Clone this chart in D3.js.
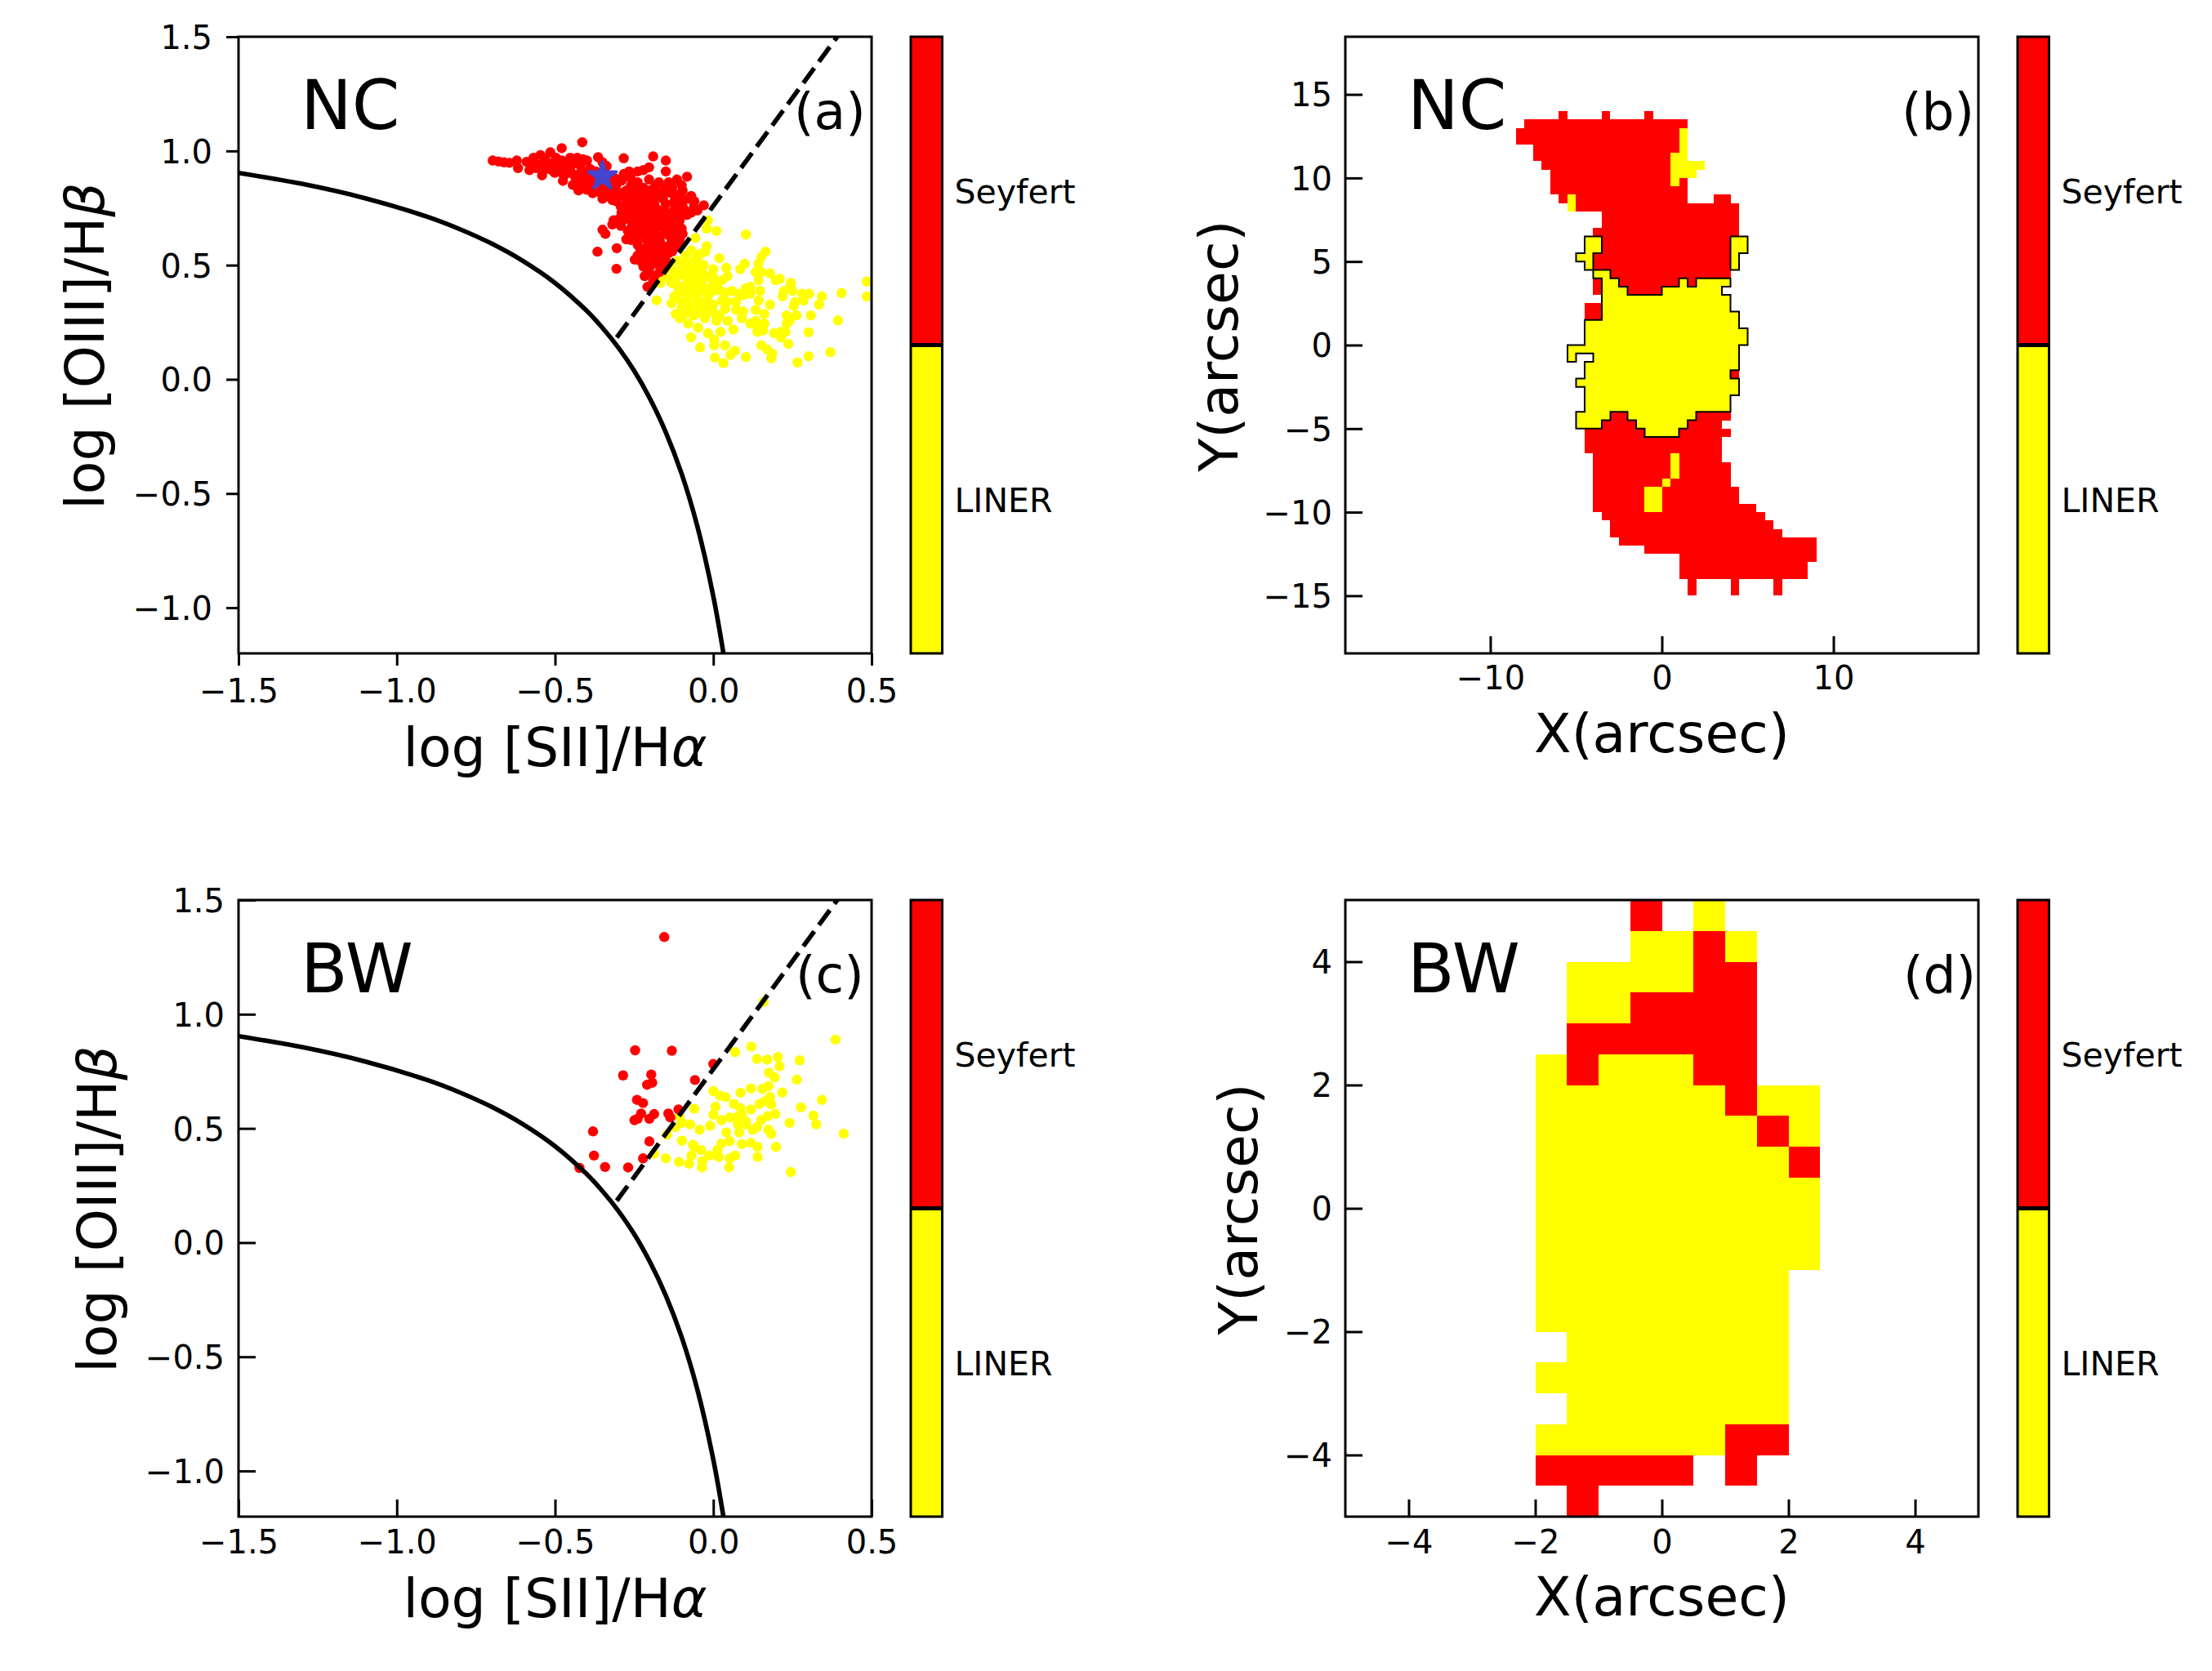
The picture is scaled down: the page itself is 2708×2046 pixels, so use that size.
<!DOCTYPE html>
<html><head><meta charset="utf-8">
<script src="https://cdn.jsdelivr.net/npm/d3@7/dist/d3.min.js"></script>
<style>html,body{margin:0;padding:0;background:#fff}svg{display:block}text{font-family:"DejaVu Sans";fill:#000}</style>
</head><body><script>
// ---------- values ----------
const ncRedPoints=[[-.697,.958],[-.679,.954],[-.661,.950],[-.644,.948],[-.621,.958],[-.617,.925],[-.590,.952],[-.581,.916],[-.568,.970],[-.546,.982],[-.541,.893],[-.550,.940],[-.515,.994],[-.519,.946],[-.501,.904],[-.479,1.012],[-.479,.958],[-.475,.869],[-.452,.970],[-.452,.916],[-.444,.851],[-.426,.827],[-.430,.970],[-.412,.964],[-.417,.910],[-.399,.958],[-.395,.881],[-.381,.815],[-.414,1.038],[-.364,.973],[-.350,.791],[-.364,.857],[-.337,.934],[-.337,.839],[-.283,.968],[-.319,.785],[-.266,.910],[-.239,.910],[-.283,.899],[-.306,.851],[-.306,.779],[-.275,.827],[-.266,.744],[-.292,.756],[-.190,.976],[-.150,.958],[-.203,.928],[-.221,.916],[-.150,.910],[-.083,.887],[-.115,.875],[-.172,.863],[-.141,.863],[-.203,.875],[-.239,.863],[-.097,.827],[-.070,.803],[-.132,.815],[-.168,.815],[-.203,.827],[-.230,.803],[-.257,.780],[-.030,.762],[-.061,.756],[-.097,.756],[-.123,.744],[-.083,.720],[-.150,.768],[-.186,.768],[-.221,.756],[-.239,.720],[-.275,.720],[-.315,.696],[-.319,.678],[-.350,.655],[-.341,.637],[-.292,.672],[-.257,.672],[-.221,.684],[-.186,.696],[-.150,.696],[-.106,.696],[-.115,.660],[-.097,.637],[-.150,.649],[-.186,.649],[-.221,.637],[-.257,.637],[-.275,.613],[-.239,.589],[-.203,.601],[-.168,.601],[-.132,.601],[-.106,.613],[-.239,.542],[-.248,.524],[-.203,.553],[-.168,.553],[-.141,.553],[-.221,.494],[-.186,.506],[-.159,.494],[-.217,.452],[-.186,.452],[-.208,.405],[-.305,.574],[-.366,.559],[-.306,.484],[-.257,.827],[-.221,.839],[-.186,.839],[-.150,.839],[-.275,.791],[-.230,.768],[-.195,.791],[-.159,.791],[-.123,.780],[-.257,.696],[-.230,.660],[-.203,.672],[-.168,.672],[-.132,.672],[-.239,.625],[-.203,.625],[-.168,.625],[-.132,.637],[-.230,.565],[-.195,.577],[-.159,.577],[-.123,.577],[-.230,.518],[-.203,.482],[-.177,.530],[-.510,.916],[-.488,.934],[-.466,.899],[-.435,.881],[-.408,.851],[-.372,.910],[-.390,.922],[-.355,.887],[-.328,.887],[-.328,.815],[-.292,.815],[-.497,.970],[-.532,.964],[-.572,.940],[-.221,.720],[-.186,.732],[-.150,.732],[-.257,.744],
[-.56,.925],[-.53,.92],[-.505,.93],[-.48,.905],[-.46,.935],[-.44,.945],[-.42,.935],[-.44,.895],[-.41,.885],[-.42,.86],[-.40,.90],[-.38,.885],[-.385,.85],[-.40,.83],[-.36,.82],[-.35,.83],[-.35,.95],[-.33,.86],[-.31,.83],[-.30,.80],[-.33,.80],[-.31,.88],[-.29,.87],[-.26,.88],[-.26,.85],[-.24,.83],[-.25,.80],[-.28,.76],[-.25,.75],[-.29,.73],[-.26,.72],[-.24,.75],[-.21,.80],[-.21,.78],[-.18,.80],[-.18,.85],[-.15,.82],[-.13,.84],[-.12,.81],[-.10,.85],[-.12,.77],[-.10,.79],[-.08,.79],[-.06,.78],[-.05,.74],[-.07,.73],[-.09,.74],[-.10,.72],[-.12,.71],[-.14,.72],[-.17,.74],[-.20,.75],[-.22,.73],[-.24,.70],[-.20,.71],[-.17,.71],[-.13,.70],[-.28,.70],[-.30,.70],[-.27,.65],[-.24,.66],[-.21,.65],[-.18,.66],[-.15,.67],[-.12,.65],[-.10,.66],[-.14,.63],[-.11,.63],[-.18,.61],[-.21,.61],[-.26,.61],[-.24,.60],[-.22,.57],[-.20,.58],[-.18,.58],[-.15,.58],[-.12,.60],[-.11,.595],[-.13,.56],[-.22,.54],[-.19,.54],[-.155,.54],[-.21,.51],[-.17,.51],[-.15,.52],[-.205,.47],[-.17,.47],[-.19,.43],[-.16,.51]];
const ncYellowPoints=[[-.017,.696],[-.021,.660],[.010,.649],[.103,.634],[-.057,.619],[-.021,.583],[-.026,.559],[.019,.530],[.165,.559],[.152,.536],[.143,.506],[.099,.506],[.085,.482],[.000,.482],[.041,.488],[.134,.470],[.179,.464],[.210,.440],[.245,.422],[.485,.428],[.405,.378],[.485,.363],[.343,.363],[.334,.327],[.303,.375],[.281,.375],[.285,.345],[.250,.387],[.219,.363],[.143,.434],[.148,.387],[.143,.345],[.179,.327],[.103,.399],[.117,.405],[.081,.375],[.094,.369],[.045,.452],[.028,.434],[.010,.422],[.000,.446],[-.035,.470],[-.061,.494],[-.088,.506],[-.052,.542],[-.115,.518],[-.132,.482],[-.159,.458],[-.168,.422],[-.115,.458],[-.079,.434],[-.043,.411],[.000,.387],[.037,.381],[.028,.345],[-.017,.363],[-.052,.363],[-.097,.387],[-.123,.363],[-.132,.333],[-.179,.346],[-.088,.339],[-.052,.327],[.000,.327],[.037,.309],[.072,.304],[.094,.298],[.134,.304],[.161,.286],[.263,.280],[.232,.280],[.254,.321],[.308,.280],[.394,.258],[.232,.244],[.161,.244],[.117,.244],[.090,.268],[.045,.256],[.010,.256],[-.026,.268],[-.061,.280],[-.097,.280],[-.119,.286],[-.106,.268],[-.079,.244],[-.048,.226],[-.017,.202],[.023,.208],[.063,.218],[.139,.208],[.157,.214],[.192,.202],[.228,.208],[.301,.206],[-.070,.184],[.003,.173],[-.042,.140],[.003,.149],[.037,.149],[.068,.125],[.054,.107],[.005,.095],[.032,.071],[.103,.098],[.152,.149],[.170,.131],[.186,.113],[.183,.092],[.237,.155],[.214,.184],[.266,.074],[.301,.101],[.370,.119],[-.070,.470],[-.097,.458],[-.132,.422],[-.070,.387],[-.035,.434],[.001,.422],[-.115,.411],[-.043,.506],[-.043,.327],[-.079,.304],[-.043,.292],[.000,.292],[.019,.280],[-.061,.458],[-.026,.387],[-.026,.339],[.152,.470],[.197,.434],[.241,.399],[.223,.387],[.259,.339],[.134,.256],[.241,.256],[.214,.208],[.139,.232],[.117,.375],[.059,.387],[.072,.339],[.045,.339],[-.070,.565],[-.088,.541],
[-.10,.48],[-.08,.47],[-.06,.44],[-.09,.41],[-.06,.40],[-.03,.40],[-.05,.38],[-.08,.37],[-.11,.38],[-.10,.34],[-.07,.33],[-.10,.31],[-.07,.29],[-.03,.31],[-.01,.30],[-.01,.40],[.02,.39],[-.14,.44],[-.12,.43],[-.05,.47],[-.02,.45],[-.03,.50],[-.04,.55],[-.06,.52]];
const bwRedPoints=[[-.155,1.338],[-.247,.842],[-.131,.840],[-.285,.732],[-.196,.736],[-.209,.691],[-.193,.700],[-.241,.625],[-.222,.611],[-.228,.565],[-.249,.536],[-.239,.542],[-.202,.542],[-.187,.563],[-.142,.565],[-.136,.548],[-.110,.583],[-.058,.712],[.000,.782],[-.380,.487],[-.202,.443],[-.377,.381],[-.342,.331],[-.269,.329],[-.222,.369],[-.423,.327]];
const bwYellowPoints=[[.159,1.054],[.386,.889],[.069,.834],[.120,.858],[.138,.804],[.170,.801],[.204,.813],[.209,.772],[.273,.798],[.176,.744],[.194,.723],[.264,.713],[.000,.663],[.021,.643],[.039,.637],[.086,.656],[.119,.675],[.155,.673],[.174,.685],[.218,.657],[.179,.637],[.163,.619],[.146,.607],[.183,.605],[.065,.607],[.086,.589],[.007,.595],[-.060,.586],[.119,.583],[.277,.592],[.343,.625],[.316,.556],[.325,.518],[.412,.477],[.241,.524],[.196,.563],[.172,.554],[.151,.536],[.138,.506],[.125,.494],[.103,.518],[.090,.560],[.073,.548],[.052,.548],[.026,.536],[.000,.560],[-.010,.512],[-.043,.494],[-.073,.518],[-.099,.524],[-.107,.554],[-.120,.506],[-.146,.473],[-.187,.389],[-.150,.369],[-.108,.353],[-.099,.446],[-.064,.428],[-.039,.405],[-.069,.381],[-.077,.345],[-.034,.357],[-.036,.329],[-.013,.381],[.013,.405],[.017,.375],[.026,.434],[.052,.444],[.041,.482],[.082,.482],[.090,.431],[.119,.437],[.140,.419],[.140,.375],[.069,.381],[.052,.369],[.050,.329],[.183,.476],[.174,.494],[.198,.419],[.245,.309],[.103,.530],[.077,.518],[-.060,.416]];
const nucleusPoint=[[-.350,.889]];
const solidX=[-1.5,-1.3,-1.1,-.9,-.8,-.7,-.6,-.5,-.4,-.35,-.3,-.25,-.2,-.15,-.1,-.05,0,.032];
const solidY=[.904,.856,.793,.710,.657,.594,.517,.422,.300,.225,.139,.037,-.085,-.232,-.414,-.646,-.95,-1.2];
const dashedX=[-.305,.40];
const dashedY=[.183,1.516];
// pixel runs of each map: [top edge of the row, left edge, right edge], arcsec
const ncRedRuns=[[14,-6,-5.5],[14,-3.5,-3],[14,-1,-.5],[13.5,-8,1.5],[13,-8.5,1],[12.5,-8.5,1],[12,-7.5,1],[11.5,-7.5,.5],[11,-7,.5],[10.5,-6.5,.5],[10,-6.5,.5],[10,1,1.5],[9.5,-6.5,1.5],[9,-6,-5.5],[9,-5,1.5],[9,3,4],[8.5,-5,4.5],[8,-3.5,4.5],[7.5,-3.5,4.5],[7,-4,4.5],[6.5,-3.5,4],[6,-3.5,4],[5.5,-4,4],[5,-4,4],[4.5,-3,4],[4,-4,-3.5],[4,-2.5,1],[4,1.5,2],[3.5,-4,-3.5],[3.5,-2,0],[2.5,-4.5,-3.5],[2,-4.5,-3.5],[-1.5,4,4.5],[-4,-3,-2],[-4,2,4],[-4.5,-3.5,-1.5],[-4.5,1.5,3.5],[-5,-4.5,-1],[-5,1,4],[-5.5,-4.5,3.5],[-6,-4.5,3.5],[-6.5,-4,.5],[-6.5,1,3.5],[-7,-4,.5],[-7,1,4],[-7.5,-4,.5],[-7.5,1,4],[-8,-4,0],[-8,.5,4],[-8.5,-4,-1],[-8.5,0,4.5],[-9,-4,-1],[-9,0,4.5],[-9.5,-4,-1],[-9.5,0,5.5],[-10,-3.5,6],[-10.5,-3,6.5],[-11,-3,7],[-11.5,-2.5,9],[-12,-1,9],[-12.5,1,9],[-13,1,8.5],[-13.5,1,8.5],[-14,1.5,2],[-14,4,4.5],[-14,6.5,7],[-14.5,1.5,2],[-14.5,4,4.5],[-14.5,6.5,7]];
const ncYellowRuns=[[13,1,1.5],[12.5,1,1.5],[12,1,1.5],[11.5,.5,1.5],[11,.5,2.5],[10.5,.5,2],[10,.5,1],[9,-5.5,-5],[8.5,-5.5,-5],[6.5,-4.5,-3.5],[6.5,4,5],[6,-4.5,-3.5],[6,4,5],[5.5,-5,-4],[5.5,4,4.5],[5,-4.5,-4],[5,4,4.5],[4.5,-4,-3],[4,-3.5,-2.5],[4,1,1.5],[4,2,4],[3.5,-3.5,-2],[3.5,0,3.5],[3,-3.5,4],[2.5,-3.5,4],[2,-3.5,4.5],[1.5,-4.5,4.5],[1,-4.5,5],[.5,-4.5,5],[0,-5.5,4.5],[-.5,-5.5,-5],[-.5,-4,4.5],[-1,-4.5,4.5],[-1.5,-4.5,4],[-2,-5,4.5],[-2.5,-4.5,4.5],[-3,-4.5,4],[-3.5,-4.5,4],[-4,-5,-3],[-4,-2,2],[-4.5,-5,-3.5],[-4.5,-1.5,1.5],[-5,-1,1],[-6.5,.5,1],[-7,.5,1],[-7.5,.5,1],[-8,0,.5],[-8.5,-1,0],[-9,-1,0],[-9.5,-1,0]];
const bwRedRuns=[[5,-.5,0],[4.5,.5,1],[4,.5,1.5],[3.5,-.5,1.5],[3,-1.5,1.5],[2.5,-1.5,-1],[2.5,.5,1.5],[2,1,1.5],[1.5,1.5,2],[1,2,2.5],[-3.5,1,2],[-4,-2,.5],[-4,1,1.5],[-4.5,-1.5,-1]];
const bwYellowRuns=[[5,.5,1],[4.5,-.5,.5],[4.5,1,1.5],[4,-1.5,.5],[3.5,-1.5,-.5],[2.5,-2,-1.5],[2.5,-1,.5],[2,-2,1],[2,1.5,2.5],[1.5,-2,1.5],[1.5,2,2.5],[1,-2,2],[.5,-2,2.5],[0,-2,2.5],[-.5,-2,2.5],[-1,-2,2],[-1.5,-2,2],[-2,-1.5,2],[-2.5,-2,2],[-3,-1.5,2],[-3.5,-2,1]];
const outlineRows=[-5,6.5];       // rows of the NC map whose yellow cells are outlined
const cellSize=.5;
const bptXTicks=[-1.5,-1,-.5,0,.5], bptYTicks=[-1,-.5,0,.5,1,1.5];
const ncTicks=[-15,-10,-5,0,5,10,15], ncXTicks=[-10,0,10], bwTicks=[-4,-2,0,2,4];
const classNames=["Seyfert","LINER"];

// ---------- layout & helpers ----------
const RED="#ff0000",YEL="#ffff00",W=775,H=755;
const svg=d3.select("body").append("svg").attr("width",2708).attr("height",2046).attr("viewBox","0 0 2708 2046");
svg.append("rect").attr("width",2708).attr("height",2046).attr("fill","#fff");
const minus=(d,dec)=>(d<0?"\u2212":"")+Math.abs(d).toFixed(dec);

function panel(o){
  const g=svg.append("g").attr("transform",`translate(${o.left},${o.top})`);
  const x=d3.scaleLinear().domain(o.xd).range([0,W]);
  const y=d3.scaleLinear().domain(o.yd).range([H,0]);
  const id="clip"+o.id;
  g.append("clipPath").attr("id",id).append("rect").attr("width",W).attr("height",H);
  const plot=g.append("g").attr("clip-path",`url(#${id})`);
  o.draw(plot,x,y);
  // axes
  const ts=o.tickIn?-21:15;
  const ax=g.append("g").attr("transform",`translate(0,${H})`)
    .call(d3.axisBottom(x).tickValues(o.xt).tickSize(ts).tickSizeOuter(0).tickFormat(d=>minus(d,o.dec)));
  const ay=g.append("g")
    .call(d3.axisLeft(y).tickValues(o.yt).tickSize(ts).tickSizeOuter(0).tickFormat(d=>minus(d,o.dec)));
  for(const a of [ax,ay]){
    a.select(".domain").remove();
    a.attr("font-family",null).attr("font-size",null);
    a.selectAll("line").attr("stroke","#000").attr("stroke-width",3);
    a.selectAll("text").style("font-size",o.tickFont+"px");
  }
  ax.selectAll("text").attr("y",o.xLabelY).attr("dy",0);
  ay.selectAll("text").attr("x",o.yLabelX).attr("dy","0.36em");
  g.append("rect").attr("width",W).attr("height",H).attr("fill","none").attr("stroke","#000").attr("stroke-width",3);
  // labels
  const xl=svg.append("text").attr("x",o.left+W/2).attr("y",o.xTitleY).attr("text-anchor","middle").style("font-size","66.5px");
  o.xTitle(xl);
  const yl=svg.append("text").attr("transform",`translate(${o.yTitleX},${o.top+H/2+1}) rotate(-90)`).attr("text-anchor","middle").style("font-size","66.5px");
  o.yTitle(yl);
  svg.append("text").attr("x",o.left+76).attr("y",o.top+113).style("font-size","84px").text(o.tag);
  svg.append("text").attr("x",o.letterX).attr("y",o.top+113).style("font-size","63px").text(o.letter);
  // colour bar
  const cx=o.left+W+48,cw=38.5;
  const cy=d3.scaleBand().domain(classNames).range([0,H]);
  const cb=svg.append("g").attr("transform",`translate(${cx},${o.top})`);
  cb.selectAll("rect").data(classNames).join("rect").attr("width",cw).attr("y",d=>cy(d)).attr("height",cy.bandwidth()).attr("fill",d=>d==="Seyfert"?RED:YEL);
  cb.append("rect").attr("width",cw).attr("height",H).attr("fill","none").attr("stroke","#000").attr("stroke-width",3);
  cb.append("line").attr("x1",0).attr("x2",cw).attr("y1",cy("LINER")).attr("y2",cy("LINER")).attr("stroke","#000").attr("stroke-width",5);
  cb.selectAll("text").data(classNames).join("text").attr("x",cw+15).attr("y",d=>d==="Seyfert"?204:582).style("font-size","41px").text(d=>d);
}
function bpt(red,yellow,star){
  return (p,x,y)=>{
    const dots=(data,c,r)=>p.append("g").selectAll("circle").data(data).join("circle").attr("cx",d=>x(d[0])).attr("cy",d=>y(d[1])).attr("r",r).attr("fill",c);
    dots(yellow,YEL,6.2); dots(red,RED,6.2);
    const line=d3.line().x(d=>x(d[0])).y(d=>y(d[1]));
    p.append("path").attr("d",line.curve(d3.curveCatmullRom)(d3.zip(solidX,solidY))).attr("fill","none").attr("stroke","#000").attr("stroke-width",5.6);
    p.append("path").attr("d",d3.line().x(d=>x(d[0])).y(d=>y(d[1]))(d3.zip(dashedX,dashedY))).attr("fill","none").attr("stroke","#000").attr("stroke-width",5.6).attr("stroke-dasharray","22.5 9.7");
    if(star) p.selectAll(".star").data(star).join("path").attr("transform",d=>`translate(${x(d[0])},${y(d[1])})`).attr("d",d3.symbol(d3.symbolStar,360)()).attr("fill","#4444cc").attr("stroke","#4444cc").attr("stroke-width",3.5).attr("stroke-linejoin","round");
  };
}
function map(red,yellow,outline){
  return (p,x,y)=>{
    const cells=(data,c)=>p.append("g").attr("shape-rendering","crispEdges").selectAll("rect").data(data).join("rect")
      .attr("x",d=>x(d[1])).attr("y",d=>y(d[0])).attr("width",d=>x(d[2])-x(d[1])).attr("height",d=>y(d[0]-cellSize)-y(d[0])).attr("fill",c);
    cells(red,RED); cells(yellow,YEL);
    if(outline){
      const key=(t,l)=>t.toFixed(1)+"|"+l.toFixed(1), set=new Set();
      yellow.filter(r=>r[0]>=outline[0]&&r[0]<=outline[1]).forEach(r=>{for(let l=r[1];l<r[2];l+=cellSize)set.add(key(r[0],l));});
      const path=d3.path();
      const edge=(a,b,c,d)=>{path.moveTo(x(a),y(b));path.lineTo(x(c),y(d));};
      for(const k of set){
        const [t,l]=k.split("|").map(Number);
        if(!set.has(key(t+cellSize,l)))edge(l,t,l+cellSize,t);
        if(!set.has(key(t-cellSize,l)))edge(l,t-cellSize,l+cellSize,t-cellSize);
        if(!set.has(key(t,l-cellSize)))edge(l,t,l,t-cellSize);
        if(!set.has(key(t,l+cellSize)))edge(l+cellSize,t,l+cellSize,t-cellSize);
      }
      p.append("path").attr("d",path.toString()).attr("fill","none").attr("stroke","#000").attr("stroke-width",2).attr("stroke-linecap","square");
    }
  };
}
const sii=t=>{t.append("tspan").text("log [SII]/H");t.append("tspan").style("font-style","italic").text("\u03b1");};
const oiii=t=>{t.append("tspan").text("log [OIII]/H");t.append("tspan").style("font-style","italic").text("\u03b2");};
const tx=s=>t=>t.text(s);

panel({id:"a",left:292,top:45,xd:[-1.5,.5],yd:[-1.2,1.5],xt:bptXTicks,yt:bptYTicks,dec:1,tickIn:false,tickFont:40,xLabelY:60,yLabelX:-32,
  xTitle:sii,yTitle:oiii,xTitleY:938,yTitleX:127,tag:"NC",letter:"(a)",letterX:972,draw:bpt(ncRedPoints,ncYellowPoints,nucleusPoint)});
panel({id:"b",left:1647,top:45,xd:[-18.45,18.45],yd:[-18.45,18.45],xt:ncXTicks,yt:ncTicks,dec:0,tickIn:true,tickFont:40,xLabelY:44,yLabelX:-16,
  xTitle:tx("X(arcsec)"),yTitle:tx("Y(arcsec)"),xTitleY:921,yTitleX:1515,tag:"NC",letter:"(b)",letterX:2328,draw:map(ncRedRuns,ncYellowRuns,outlineRows)});
panel({id:"c",left:292,top:1102,xd:[-1.5,.5],yd:[-1.2,1.5],xt:bptXTicks,yt:bptYTicks,dec:1,tickIn:true,tickFont:40,xLabelY:45,yLabelX:-17,
  xTitle:sii,yTitle:oiii,xTitleY:1980,yTitleX:142,tag:"BW",letter:"(c)",letterX:974,draw:bpt(bwRedPoints,bwYellowPoints,null)});
panel({id:"d",left:1647,top:1102,xd:[-5,5],yd:[-5,5],xt:bwTicks,yt:bwTicks,dec:0,tickIn:true,tickFont:40,xLabelY:45,yLabelX:-16,
  xTitle:tx("X(arcsec)"),yTitle:tx("Y(arcsec)"),xTitleY:1978,yTitleX:1539,tag:"BW",letter:"(d)",letterX:2330,draw:map(bwRedRuns,bwYellowRuns,null)});
</script></body></html>
